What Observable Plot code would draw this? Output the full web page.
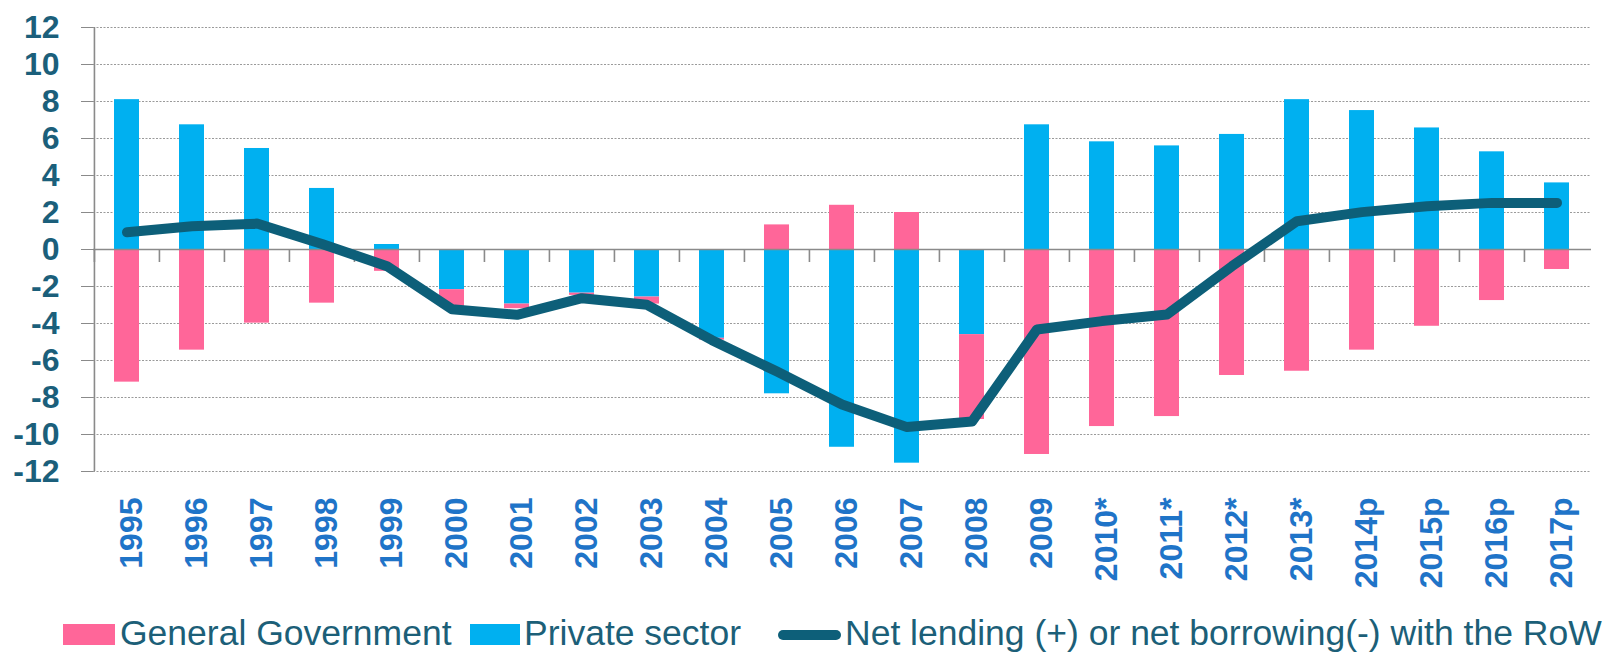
<!DOCTYPE html>
<html>
<head>
<meta charset="utf-8">
<script src="https://cdn.jsdelivr.net/npm/d3@7"></script>
<script src="https://cdn.jsdelivr.net/npm/@observablehq/plot@0.6"></script>
<style>
  html, body { margin: 0; padding: 0; background: #fff; }
  #wrap { position: relative; width: 1605px; height: 652px; overflow: hidden; font-family: "Liberation Sans", Arial, sans-serif; }
  #legend { position: absolute; left: 0; top: 0; width: 1605px; height: 652px; pointer-events: none; }
  .sw { position: absolute; }
  .lt { position: absolute; font-size: 35.5px; line-height: 36px; color: #1c5f78; white-space: nowrap; }
</style>
</head>
<body>
<div id="wrap"><div id="chart"></div><div id="legend"></div></div>
<script>
// ---- data ----
const years = ["1995","1996","1997","1998","1999","2000","2001","2002","2003","2004","2005","2006","2007","2008","2009","2010*","2011*","2012*","2013*","2014p","2015p","2016p","2017p"];
const privateSector = [8.1, 6.74, 5.46, 3.3, 0.27, -2.17, -2.95, -2.36, -2.57, -4.8, -7.8, -10.69, -11.55, -4.6, 6.74, 5.82, 5.6, 6.22, 8.1, 7.51, 6.57, 5.28, 3.6];
const generalGovernment = [-7.17, -5.44, -3.98, -2.9, -1.18, -0.96, -0.25, -0.12, -0.38, -0.1, 1.33, 2.39, 2.0, -4.59, -11.08, -9.57, -9.03, -6.81, -6.58, -5.44, -4.15, -2.76, -1.08];
const netLending = [0.93, 1.26, 1.4, 0.3, -0.9, -3.23, -3.53, -2.63, -2.99, -4.9, -6.6, -8.38, -9.6, -9.3, -4.32, -3.87, -3.51, -0.9, 1.53, 2.02, 2.34, 2.52, 2.52];
const seriesNames = ["General Government", "Private sector", "Net lending (+) or net borrowing(-) with the RoW"];
const yTicks = [-12, -10, -8, -6, -4, -2, 0, 2, 4, 6, 8, 10, 12];

// ---- styles ----
const pink = "#ff6699", blue = "#00b0f0", teal = "#0d5f79";
const W = 1605, H = 600, ml = 93, mr = 14, mt = 27, mb = 129;
const step = (W - ml - mr) / years.length;
const pxPerUnit = (H - mt - mb) / (yTicks[yTicks.length - 1] - yTicks[0]);

const rows = years.flatMap((yr, i) => [
  {year: yr, series: seriesNames[1], value: privateSector[i]},
  {year: yr, series: seriesNames[0], value: generalGovernment[i]}
]);
const lineRows = years.map((yr, i) => ({year: yr, value: netLending[i]}));

const chart = Plot.plot({
  width: W, height: H,
  marginLeft: ml, marginRight: mr, marginTop: mt, marginBottom: mb,
  style: {fontFamily: '"Liberation Sans", Arial, sans-serif', background: "white", overflow: "visible"},
  x: {domain: years, paddingInner: 0.61, paddingOuter: 0.305, axis: null},
  y: {domain: [yTicks[0], yTicks[yTicks.length - 1]], axis: null},
  color: {domain: [seriesNames[0], seriesNames[1]], range: [pink, blue]},
  marks: [
    Plot.gridY({ticks: yTicks.filter(t => t !== 0), stroke: "#9a9a9a", strokeOpacity: 1, strokeWidth: 1.2, strokeDasharray: "2,1.5"}),
    Plot.barY(rows, {x: "year", y: "value", fill: "series", z: "series"}),
    Plot.ruleY([0], {stroke: "#8a8a8a", strokeWidth: 1.6}),
    Plot.ruleX(years, {x: d => d, y1: 0, y2: -13 / pxPerUnit, dx: -step / 2, stroke: "#8a8a8a", strokeWidth: 1.6}),
    Plot.ruleX([years[0]], {x: d => d, y1: yTicks[0], y2: yTicks[yTicks.length - 1], dx: -step / 2, stroke: "#8a8a8a", strokeWidth: 1.6}),
    Plot.axisY({ticks: yTicks, tickSize: 12, tickPadding: 22, fontSize: 32, fontWeight: "bold", stroke: "#8a8a8a", fill: "#1b5f7b", tickFormat: d => String(d), label: null}),
    Plot.axisX({tickRotate: -90, tickSize: 0, tickPadding: 26, fontSize: 32, fontWeight: "bold", fill: "#1f74c8", label: null, dx: 5}),
    Plot.line(lineRows, {x: "year", y: "value", stroke: teal, strokeWidth: 10, strokeLinecap: "round", strokeLinejoin: "round"})
  ]
});
document.getElementById("chart").appendChild(chart);

// ---- legend ----
const legend = document.getElementById("legend");
function add(tag, cls, css, text) {
  const el = document.createElement(tag);
  el.className = cls;
  Object.assign(el.style, css);
  if (text) el.textContent = text;
  legend.appendChild(el);
  return el;
}
add("div", "sw", {left: "63px", top: "624px", width: "52px", height: "21px", background: pink});
add("div", "lt", {left: "120px", top: "615px"}, seriesNames[0]);
add("div", "sw", {left: "470px", top: "624px", width: "50px", height: "21px", background: blue});
add("div", "lt", {left: "524px", top: "615px"}, seriesNames[1]);
add("div", "sw", {left: "778px", top: "630px", width: "63px", height: "10px", background: teal, borderRadius: "5px"});
add("div", "lt", {left: "845px", top: "615px"}, seriesNames[2]);
</script>
</body>
</html>
